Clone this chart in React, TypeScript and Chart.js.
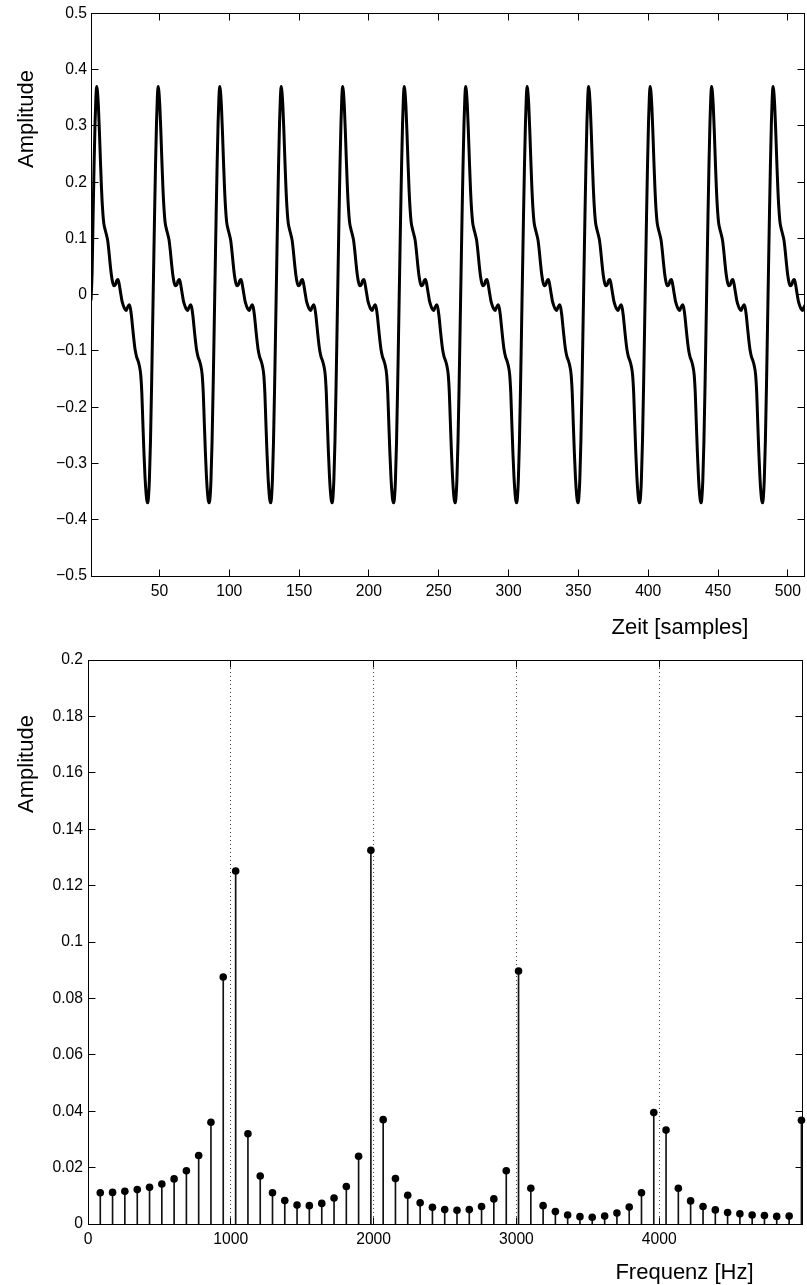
import React, { useEffect, useRef } from "react";
import { Chart, registerables } from "chart.js";

Chart.register(...registerables);

const FONT = '"Liberation Sans", Arial, Helvetica, sans-serif';
Chart.defaults.font.family = FONT;
Chart.defaults.color = "#000";

// ---------- Top chart: waveform (Zeit [samples]) ----------
// sample positions of the peaks
const peakSamples = [5.1, 49.1, 93.2, 137.2, 181.2, 225.3, 269.3, 313.3, 357.3, 401.4, 445.4, 489.4];
// shape after a peak (offset in samples from the peak, amplitude)
const fallOffsets = [0, 0.5, 1.2, 2.0, 2.7, 3.4, 4.2, 5.0, 5.8, 6.8, 7.8, 8.7, 9.6, 10.5, 11.4, 12.4, 13.4, 14.3, 15.2, 16.0, 17.0, 18.0, 19.0, 20.0, 21.0, 22.0, 23.2, 24.0, 24.8, 25.7, 26.6, 27.5, 28.5, 29.5, 30.5, 31.5, 32.3, 33.0, 33.8, 34.6, 35.4, 36.0, 36.6];
const fallValues = [0.370, 0.362, 0.335, 0.285, 0.235, 0.190, 0.152, 0.128, 0.118, 0.108, 0.097, 0.078, 0.055, 0.035, 0.022, 0.016, 0.018, 0.025, 0.027, 0.020, 0.005, -0.010, -0.019, -0.025, -0.028, -0.023, -0.018, -0.023, -0.036, -0.058, -0.080, -0.098, -0.110, -0.117, -0.126, -0.142, -0.175, -0.225, -0.280, -0.325, -0.355, -0.367, -0.370];
// rise before a peak (offset in samples before the peak, amplitude)
const riseOffsets = [-7.0, -6.3, -5.5, -4.7, -4.0, -3.3, -2.6, -1.9, -1.2, -0.6];
const riseValues = [-0.362, -0.330, -0.260, -0.160, -0.060, 0.040, 0.140, 0.230, 0.305, 0.350];
const waveStartSample = 1;
const waveStartValue = -0.01;
const sampleMin = 1;
const sampleMax = 512;

const timeTicks = [50, 100, 150, 200, 250, 300, 350, 400, 450, 500];
const ampTicksTop = [-0.5, -0.4, -0.3, -0.2, -0.1, 0, 0.1, 0.2, 0.3, 0.4, 0.5];
const ampTickLabelsTop = ["\u22120.5", "\u22120.4", "\u22120.3", "\u22120.2", "\u22120.1", "0", "0.1", "0.2", "0.3", "0.4", "0.5"];

// ---------- Bottom chart: spectrum (Frequenz [Hz]) ----------
const freqBins = [86, 172, 258, 345, 431, 517, 603, 689, 775, 861, 947, 1034, 1120, 1206, 1292, 1378, 1464, 1550, 1637, 1723, 1809, 1895, 1981, 2067, 2153, 2239, 2326, 2412, 2498, 2584, 2670, 2756, 2842, 2929, 3015, 3101, 3187, 3273, 3359, 3445, 3531, 3618, 3704, 3790, 3876, 3962, 4048, 4134, 4220, 4307, 4393, 4479, 4565, 4651, 4737, 4823, 4910, 4996];
const spectrum = [0.0111, 0.0112, 0.0116, 0.0122, 0.0130, 0.0142, 0.0160, 0.0189, 0.0243, 0.0361, 0.0876, 0.1252, 0.0320, 0.0170, 0.0111, 0.0083, 0.0067, 0.0065, 0.0073, 0.0092, 0.0133, 0.0240, 0.1325, 0.0370, 0.0161, 0.0102, 0.0075, 0.0059, 0.0051, 0.0049, 0.0051, 0.0062, 0.0089, 0.0189, 0.0897, 0.0127, 0.0065, 0.0044, 0.0032, 0.0026, 0.0024, 0.0028, 0.0039, 0.0060, 0.0111, 0.0395, 0.0333, 0.0127, 0.0082, 0.0062, 0.0050, 0.0041, 0.0036, 0.0032, 0.0030, 0.0027, 0.0028, 0.0368];
const freqMin = 0;
const freqMax = 5000;
const freqTicks = [0, 1000, 2000, 3000, 4000];
const freqGrid = [1000, 2000, 3000, 4000];
const ampTicksBottom = [0, 0.02, 0.04, 0.06, 0.08, 0.1, 0.12, 0.14, 0.16, 0.18, 0.2];
const ampTickLabelsBottom = ["0", "0.02", "0.04", "0.06", "0.08", "0.1", "0.12", "0.14", "0.16", "0.18", "0.2"];

const xTitleTop = "Zeit [samples]";
const xTitleBottom = "Frequenz [Hz]";
const yTitle = "Amplitude";

function buildWave() {
  const pts: { x: number; y: number }[] = [{ x: waveStartSample, y: waveStartValue }];
  peakSamples.forEach((p) => {
    riseOffsets.forEach((o, j) => {
      const x = p + o;
      if (x > waveStartSample + 0.5) pts.push({ x, y: riseValues[j] });
    });
    fallOffsets.forEach((o, j) => {
      const x = p + o;
      if (x <= sampleMax + 1.5) pts.push({ x, y: fallValues[j] });
    });
  });
  return pts;
}

type FrameOpts = {
  xTicks: number[];
  yTicks: number[];
  dottedX: number[];
  xTitle: string;
  xTitleX: number;
  xTitleY: number;
  yTitle: string;
  yTitleX: number;
  yTitleY: number;
};

function makeFramePlugin(o: FrameOpts) {
  return {
    id: "frame",
    beforeDatasetsDraw(chart: any) {
      const { ctx, chartArea: a, scales } = chart;
      const xs = scales.x;
      ctx.save();
      ctx.strokeStyle = "#444";
      ctx.lineWidth = 1;
      ctx.setLineDash([1, 3]);
      o.dottedX.forEach((v) => {
        const px = Math.floor(xs.getPixelForValue(v)) + 0.5;
        ctx.beginPath();
        ctx.moveTo(px, a.top);
        ctx.lineTo(px, a.bottom);
        ctx.stroke();
      });
      ctx.restore();
    },
    afterDatasetsDraw(chart: any) {
      const { ctx, chartArea: a, scales } = chart;
      const xs = scales.x;
      const ys = scales.y;
      const L = Math.floor(a.left) + 0.5;
      const R = Math.floor(a.right) + 0.5;
      const T = Math.floor(a.top) + 0.5;
      const B = Math.floor(a.bottom) + 0.5;
      const tl = 7;
      ctx.save();
      ctx.strokeStyle = "#000";
      ctx.lineWidth = 1;
      ctx.setLineDash([]);
      ctx.strokeRect(L, T, R - L, B - T);
      ctx.beginPath();
      o.xTicks.forEach((v) => {
        const px = Math.floor(xs.getPixelForValue(v)) + 0.5;
        ctx.moveTo(px, B);
        ctx.lineTo(px, B - tl);
        ctx.moveTo(px, T);
        ctx.lineTo(px, T + tl);
      });
      o.yTicks.forEach((v) => {
        const py = Math.floor(ys.getPixelForValue(v)) + 0.5;
        ctx.moveTo(L, py);
        ctx.lineTo(L + tl, py);
        ctx.moveTo(R, py);
        ctx.lineTo(R - tl, py);
      });
      ctx.stroke();

      ctx.fillStyle = "#000";
      ctx.font = "22px " + FONT;
      ctx.textAlign = "center";
      ctx.textBaseline = "alphabetic";
      ctx.fillText(o.xTitle, o.xTitleX, o.xTitleY);
      ctx.translate(o.yTitleX, o.yTitleY);
      ctx.rotate(-Math.PI / 2);
      ctx.fillText(o.yTitle, 0, 0);
      ctx.restore();
    },
  };
}

const tickFont = { size: 15.7, family: FONT };

function TopChart() {
  const ref = useRef<HTMLCanvasElement>(null);
  useEffect(() => {
    const chart = new Chart(ref.current as HTMLCanvasElement, {
      type: "line",
      data: {
        datasets: [
          {
            data: buildWave(),
            borderColor: "#000",
            borderWidth: 3,
            pointRadius: 0,
            cubicInterpolationMode: "monotone",
            fill: false,
            clip: 0,
          } as any,
        ],
      },
      options: {
        animation: false,
        responsive: false,
        events: [],
        layout: { padding: { top: 13, right: 2, left: 0, bottom: 0 } },
        plugins: { legend: { display: false }, tooltip: { enabled: false } },
        scales: {
          x: {
            type: "linear",
            min: sampleMin,
            max: sampleMax,
            grid: { display: false, drawTicks: false, tickLength: 0 },
            border: { display: false },
            afterBuildTicks: (s: any) => {
              s.ticks = timeTicks.map((v) => ({ value: v }));
            },
            afterFit: (s: any) => {
              s.height = 64;
            },
            ticks: { font: tickFont, padding: 6, maxRotation: 0, autoSkip: false, color: "#000", callback: (v: any) => String(v) },
          },
          y: {
            type: "linear",
            min: -0.5,
            max: 0.5,
            grid: { display: false, drawTicks: false, tickLength: 0 },
            border: { display: false },
            afterBuildTicks: (s: any) => {
              s.ticks = ampTicksTop.map((v) => ({ value: v }));
            },
            afterFit: (s: any) => {
              s.width = 91;
            },
            ticks: { font: tickFont, padding: 4, autoSkip: false, color: "#000", callback: (_v: any, i: number) => ampTickLabelsTop[i] },
          },
        },
      } as any,
      plugins: [
        makeFramePlugin({
          xTicks: timeTicks,
          yTicks: ampTicksTop,
          dottedX: [],
          xTitle: xTitleTop,
          xTitleX: 680,
          xTitleY: 633.5,
          yTitle: yTitle,
          yTitleX: 33,
          yTitleY: 119,
        }),
      ],
    });
    return () => chart.destroy();
  }, []);
  return <canvas ref={ref} width={807} height={640} style={{ position: "absolute", left: 0, top: 0, width: 807, height: 640 }} />;
}

function BottomChart() {
  const ref = useRef<HTMLCanvasElement>(null);
  useEffect(() => {
    const pts = freqBins.map((f, i) => ({ x: f, y: spectrum[i] }));
    const chart = new Chart(ref.current as HTMLCanvasElement, {
      type: "bar",
      data: {
        datasets: [
          {
            type: "scatter",
            data: pts,
            backgroundColor: "#000",
            borderColor: "#000",
            pointRadius: 3.8,
            pointBorderWidth: 0,
            showLine: false,
            order: 0,
            clip: false,
          } as any,
          {
            type: "bar",
            data: pts,
            backgroundColor: "#111",
            borderWidth: 0,
            barThickness: 1,
            order: 1,
          } as any,
        ],
      },
      options: {
        animation: false,
        responsive: false,
        events: [],
        layout: { padding: { top: 15, right: 5, left: 0, bottom: 0 } },
        plugins: { legend: { display: false }, tooltip: { enabled: false } },
        scales: {
          x: {
            type: "linear",
            min: freqMin,
            max: freqMax,
            offset: false,
            grid: { display: false, drawTicks: false, tickLength: 0, offset: false },
            border: { display: false },
            afterBuildTicks: (s: any) => {
              s.ticks = freqTicks.map((v) => ({ value: v }));
            },
            afterFit: (s: any) => {
              s.height = 61;
            },
            ticks: { font: tickFont, padding: 6, maxRotation: 0, autoSkip: false, color: "#000", callback: (v: any) => String(v) },
          },
          y: {
            type: "linear",
            min: 0,
            max: 0.2,
            grid: { display: false, drawTicks: false, tickLength: 0 },
            border: { display: false },
            afterBuildTicks: (s: any) => {
              s.ticks = ampTicksBottom.map((v) => ({ value: v }));
            },
            afterFit: (s: any) => {
              s.width = 88;
            },
            ticks: { font: tickFont, padding: 5, autoSkip: false, color: "#000", callback: (_v: any, i: number) => ampTickLabelsBottom[i] },
          },
        },
      } as any,
      plugins: [
        makeFramePlugin({
          xTicks: freqTicks,
          yTicks: ampTicksBottom,
          dottedX: freqGrid,
          xTitle: xTitleBottom,
          xTitleX: 684.5,
          xTitleY: 633.5,
          yTitle: yTitle,
          yTitleX: 33,
          yTitleY: 119,
        }),
      ],
    });
    return () => chart.destroy();
  }, []);
  return <canvas ref={ref} width={807} height={640} style={{ position: "absolute", left: 0, top: 645, width: 807, height: 640 }} />;
}

export default function App() {
  return (
    <div style={{ position: "absolute", left: 0, top: 0, width: 807, height: 1285, background: "#fff", overflow: "hidden" }}>
      <TopChart />
      <BottomChart />
    </div>
  );
}
